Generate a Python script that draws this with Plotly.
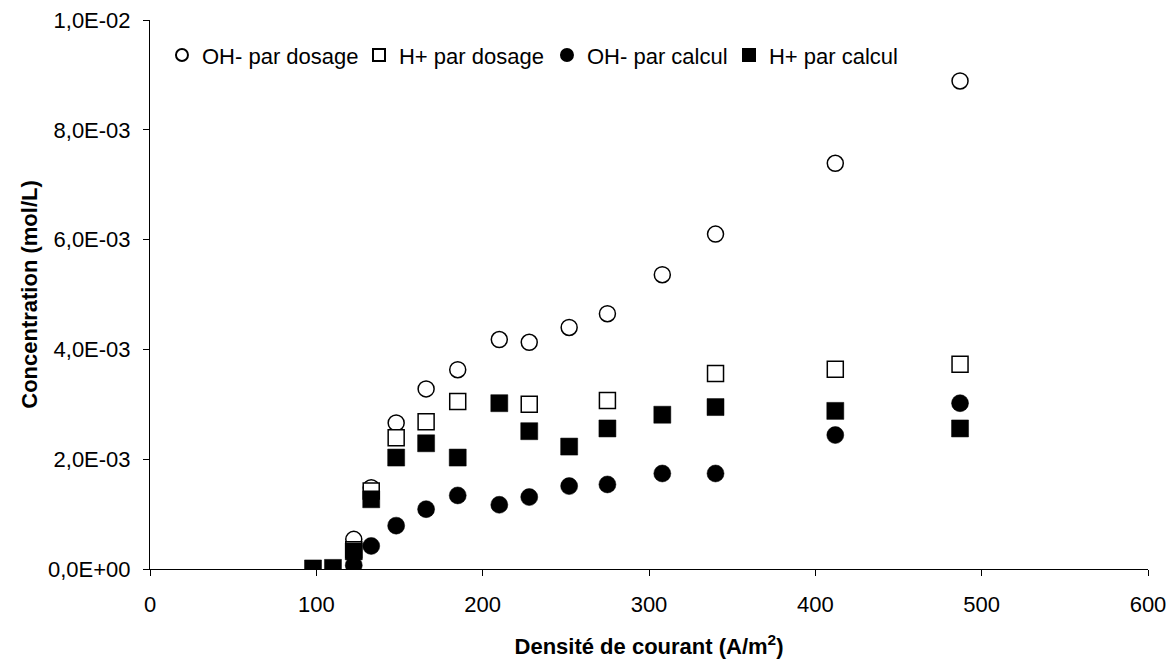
import plotly.graph_objects as go

# ---- data ----
x_oh_dos = [122.5, 133, 148, 166, 185, 210, 228, 252, 275, 308, 340, 412, 487]
y_oh_dos = [0.54e-3, 1.48e-3, 2.66e-3, 3.28e-3, 3.63e-3, 4.18e-3, 4.13e-3, 4.40e-3,
            4.65e-3, 5.36e-3, 6.10e-3, 7.39e-3, 8.89e-3]

x_h_dos = [122.5, 133, 148, 166, 185, 228, 275, 340, 412, 487]
y_h_dos = [0.35e-3, 1.42e-3, 2.39e-3, 2.68e-3, 3.05e-3, 3.00e-3, 3.07e-3, 3.56e-3,
           3.64e-3, 3.73e-3]

x_oh_calc = [122.5, 133, 148, 166, 185, 210, 228, 252, 275, 308, 340, 412, 487]
y_oh_calc = [0.07e-3, 0.42e-3, 0.79e-3, 1.09e-3, 1.34e-3, 1.17e-3, 1.31e-3, 1.51e-3,
             1.54e-3, 1.74e-3, 1.74e-3, 2.44e-3, 3.02e-3]

x_h_calc = [98, 110, 122.5, 133, 148, 166, 185, 210, 228, 252, 275, 308, 340, 412, 487]
y_h_calc = [0.01e-3, 0.02e-3, 0.32e-3, 1.27e-3, 2.03e-3, 2.29e-3, 2.03e-3, 3.02e-3,
            2.51e-3, 2.23e-3, 2.56e-3, 2.81e-3, 2.95e-3, 2.88e-3, 2.56e-3]

series_names = ["OH- par dosage", "H+ par dosage", "OH- par calcul", "H+ par calcul"]

y_tickvals = [0, 0.002, 0.004, 0.006, 0.008, 0.010]
y_ticktext = ["0,0E+00", "2,0E-03", "4,0E-03", "6,0E-03", "8,0E-03", "1,0E-02"]
x_tickvals = [0, 100, 200, 300, 400, 500, 600]

FONT = "Liberation Sans, Arial, sans-serif"

fig = go.Figure()
fig.add_trace(go.Scatter(
    x=x_oh_dos, y=y_oh_dos, mode="markers", name=series_names[0], legendwidth=152,
    marker=dict(symbol="circle", size=16, color="white", line=dict(color="black", width=1.5))))
fig.add_trace(go.Scatter(
    x=x_h_dos, y=y_h_dos, mode="markers", name=series_names[1], legendwidth=143,
    marker=dict(symbol="square", size=16, color="white", line=dict(color="black", width=1.5))))
fig.add_trace(go.Scatter(
    x=x_oh_calc, y=y_oh_calc, mode="markers", name=series_names[2], legendwidth=137,
    marker=dict(symbol="circle", size=17, color="black", line=dict(color="black", width=0.5))))
fig.add_trace(go.Scatter(
    x=x_h_calc, y=y_h_calc, mode="markers", name=series_names[3],
    marker=dict(symbol="square", size=17, color="black", line=dict(color="black", width=0.5))))

fig.update_layout(
    width=1168, height=659,
    margin=dict(l=150, r=20, t=20, b=90),
    paper_bgcolor="white", plot_bgcolor="white",
    font=dict(family=FONT, size=22, color="black"),
    showlegend=True,
    legend=dict(orientation="h", x=0.012, xanchor="left", y=0.936, yanchor="middle",
                bgcolor="rgba(0,0,0,0)", borderwidth=0, itemsizing="constant",
                font=dict(family=FONT, size=22, color="black"), itemclick=False),
    xaxis=dict(
        range=[0, 600], tickvals=x_tickvals, showgrid=False, zeroline=False,
        showline=True, linecolor="black", linewidth=1, automargin=False,
        ticks="outside", ticklen=6, tickcolor="black", ticklabelstandoff=10,
        ticklabeloverflow="allow",
        tickfont=dict(family=FONT, size=22),
        title=dict(text="<b>Densité de courant (A/m<sup>2</sup>)</b>",
                   font=dict(family=FONT, size=22), standoff=22)),
    yaxis=dict(
        range=[0, 0.01], tickvals=y_tickvals, ticktext=y_ticktext, showgrid=False,
        zeroline=False, showline=True, linecolor="black", linewidth=1, automargin=False,
        ticks="outside", ticklen=6, tickcolor="black", ticklabelstandoff=8,
        ticklabeloverflow="allow",
        tickfont=dict(family=FONT, size=22),
        title=dict(text="<b>Concentration (mol/L)</b>",
                   font=dict(family=FONT, size=22), standoff=4)),
)

# remove the default 8px page margin so the 1168x659 figure fills the window exactly
fig.write_html("out.html",
               config={"displayModeBar": False},
               post_script="document.body.style.margin='0';document.body.style.overflow='hidden';")
